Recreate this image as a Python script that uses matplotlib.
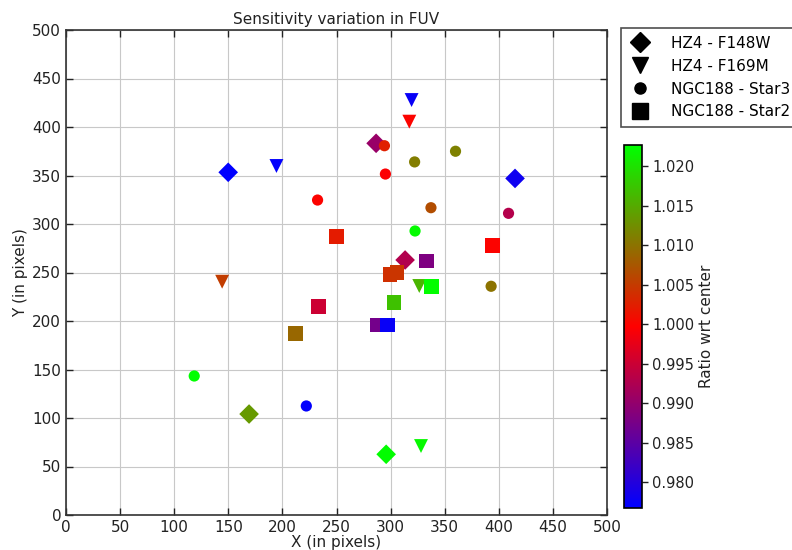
import matplotlib
matplotlib.use("Agg")
import matplotlib.pyplot as plt
from matplotlib.colors import Normalize
from matplotlib.lines import Line2D

plt.rcParams['font.family'] = ['DejaVu Sans']

# HZ4 - F148W (diamonds)
d_x = [149.9, 286.6, 313.4, 169.2, 295.9, 415.0]
d_y = [353.3, 383.2, 262.9, 104.1, 62.6, 347.0]
d_v = [0.9767, 0.9905, 0.9928, 1.0135, 1.0225, 0.9780]

# HZ4 - F169M (triangles)
t_x = [319.4, 317.3, 194.5, 144.3, 326.5, 328.1]
t_y = [427.8, 405.5, 359.8, 240.5, 236.1, 71.1]
t_v = [0.9775, 1.0000, 0.9770, 1.0052, 1.0160, 1.0220]

# NGC188 - Star3 (circles)
c_x = [294.3, 322.2, 360.0, 295.2, 232.5, 337.3, 322.6, 409.0, 392.9, 118.5, 222.1]
c_y = [380.7, 364.0, 375.0, 351.5, 324.7, 316.8, 292.8, 311.0, 235.8, 143.3, 112.4]
c_v = [1.0025, 1.0110, 1.0112, 0.9995, 1.0000, 1.0066, 1.0222, 0.9930, 1.0100, 1.0227, 0.9770]

# NGC188 - Star2 (squares)
s_x = [250.0, 333.3, 394.1, 299.5, 306.0, 337.6, 233.5, 303.2, 287.6, 297.3, 212.0]
s_y = [287.0, 261.9, 277.6, 248.1, 249.8, 235.4, 214.7, 218.9, 195.9, 195.9, 187.3]
s_v = [1.0022, 0.9882, 1.0000, 1.0040, 1.0045, 1.0225, 0.9951, 1.0170, 0.9873, 0.9775, 1.0089]

labels = ['HZ4 - F148W', 'HZ4 - F169M', 'NGC188 - Star3', 'NGC188 - Star2']
cbar_ticks = [0.980, 0.985, 0.990, 0.995, 1.000, 1.005, 1.010, 1.015, 1.020]

allv = d_v + t_v + c_v + s_v
norm = Normalize(vmin=min(allv), vmax=max(allv))
cmap = 'brg'
fs = 11

fig = plt.figure(figsize=(7.92, 5.5), dpi=100)
ax = fig.add_axes([66/792, 35/550, 541/792, 485/550])

sc = ax.scatter(d_x, d_y, c=d_v, cmap=cmap, norm=norm, marker='D', s=100, edgecolors='none', zorder=3)
ax.scatter(t_x, t_y, c=t_v, cmap=cmap, norm=norm, marker='v', s=100, edgecolors='none', zorder=3)
ax.scatter(c_x, c_y, c=c_v, cmap=cmap, norm=norm, marker='o', s=65, edgecolors='none', zorder=3)
ax.scatter(s_x, s_y, c=s_v, cmap=cmap, norm=norm, marker='s', s=110, edgecolors='none', zorder=3)

ax.set_xlim(0, 500)
ax.set_ylim(0, 500)
ax.set_xticks(range(0, 501, 50))
ax.set_yticks(range(0, 501, 50))
ax.grid(True, color='#c8c8c8', linewidth=0.8, linestyle='-')
ax.set_axisbelow(True)
ax.tick_params(direction='in', top=True, right=True, length=5, width=1, labelsize=fs, colors='#222222')
for sp in ax.spines.values():
    sp.set_linewidth(1.2)
    sp.set_color('#333333')
ax.set_title('Sensitivity variation in FUV', fontsize=fs, pad=4.5, color='#222222')
ax.set_xlabel('X (in pixels)', fontsize=fs, labelpad=0, color='#222222')
ax.set_ylabel('Y (in pixels)', fontsize=fs, labelpad=3, color='#222222')

cax = fig.add_axes([624/792, 42/550, 18/792, 363/550])
cb = fig.colorbar(sc, cax=cax, ticks=cbar_ticks)
cb.ax.set_yticklabels(['%.3f' % t for t in cbar_ticks])
cb.ax.tick_params(labelsize=10.5, length=4, width=1, direction='out', colors='#222222')
cb.outline.set_linewidth(1.2)
cb.set_label('Ratio wrt center', fontsize=fs, color='#222222', labelpad=3)

handles = [Line2D([], [], linestyle='none', marker=m, color='black', markersize=ms)
           for m, ms in zip(['D', 'v', 'o', 's'], [10.5, 11, 8, 11])]
leg = fig.legend(handles, labels, loc='upper left', bbox_to_anchor=(621/792, 1 - 28/550),
                 borderaxespad=0, fontsize=fs, frameon=True, fancybox=False, edgecolor='#222222',
                 handletextpad=1.3, borderpad=0.5, labelspacing=0.52, handlelength=1.5)
leg.get_frame().set_linewidth(1.2)

fig.savefig('out.png', dpi=100, facecolor='white')
